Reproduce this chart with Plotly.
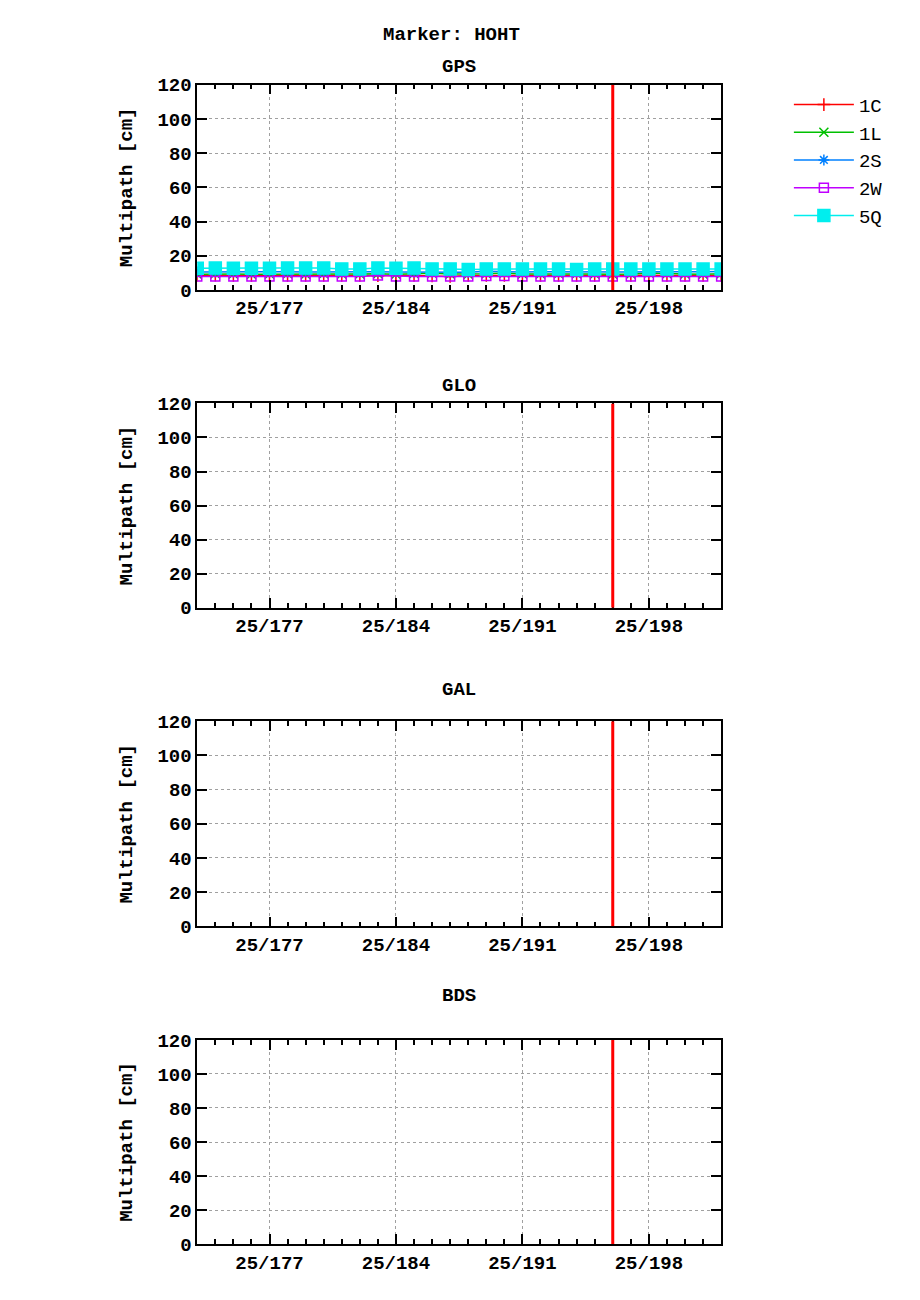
import plotly.graph_objects as go

days = list(range(173, 203))
gps_1c = [8.5, 8.6, 8.4, 8.5, 8.4, 8.5, 8.4, 8.5, 8.4, 8.5, 8.3, 8.6, 8.4, 8.2, 7.8, 8.4, 8.5, 8.5, 8.6, 8.4, 8.4, 8.5, 8.4, 8.5, 8.4, 8.6, 8.5, 8.4, 8.4, 8.5]
gps_1l = [9.2, 9.4, 9.3, 9.2, 9.3, 9.4, 9.2, 9.4, 9.3, 9.3, 9.5, 9.2, 9.6, 9.8, 9.3, 9.2, 9.5, 9.9, 9.3, 9.3, 9.4, 9.4, 9.3, 9.2, 9.3, 9.9, 9.4, 9.3, 9.2, 9.4]
gps_2s = [10.5, 10.6, 10.5, 10.6, 10.5, 10.6, 10.5, 10.6, 10.6, 10.5, 10.6, 10.5, 10.4, 10.5, 10.6, 10.3, 10.9, 10.6, 10.5, 10.6, 10.5, 10.5, 10.6, 10.5, 10.5, 10.6, 10.5, 10.6, 10.6, 10.7]
gps_2w = [7.8, 7.8, 7.9, 7.8, 7.8, 7.8, 7.8, 7.9, 7.8, 7.9, 8.4, 7.9, 7.8, 7.8, 7.8, 7.9, 8.2, 8.1, 7.9, 7.8, 7.8, 7.8, 7.8, 7.9, 7.8, 7.8, 7.8, 7.8, 7.8, 7.9]
gps_5q = [12.7, 12.8, 12.7, 12.7, 12.7, 12.8, 12.8, 12.8, 12.3, 12.3, 12.8, 12.7, 12.8, 12.3, 12.3, 11.9, 12.3, 12.3, 12.3, 12.3, 12.3, 11.9, 12.3, 12.3, 12.3, 12.3, 12.3, 12.3, 12.3, 12.3]

series = [
    ("1C", gps_1c, "#ff0000", "cross-thin-open"),
    ("1L", gps_1l, "#00c000", "x-thin-open"),
    ("2S", gps_2s, "#0080ff", "asterisk-open"),
    ("2W", gps_2w, "#c000ff", "square-open"),
    ("5Q", gps_5q, "#00eeee", "square"),
]
panels = ["GPS", "GLO", "GAL", "BDS"]
major_days = [177, 184, 191, 198]
major_text = ["25/177", "25/184", "25/191", "25/198"]
event_day = 196

FONT = "Liberation Mono"
FS = 19
W, H = 920, 1300
tops = [83, 403, 722, 1042]
bottoms = [289, 608, 928, 1247]


# the page renders slightly offset/compressed, correct pixel targets
def py(y):
    return 1 - ((y - 15) / 0.987) / H


def px(x):
    return ((x - 6) / 1.004) / W


fig = go.Figure()
for name, vals, color, sym in series:
    fig.add_trace(go.Scatter(
        x=days, y=vals, name=name, mode="lines+markers",
        line=dict(color=color, width=1.5),
        marker=dict(symbol=sym, size=9 if sym != "square" else 12, color=color,
                    line=dict(color=color, width=1.5)),
        xaxis="x", yaxis="y",
    ))

layout = dict(
    width=W, height=H, margin=dict(l=0, r=0, t=0, b=0),
    paper_bgcolor="white", plot_bgcolor="white",
    font=dict(family=FONT, size=FS, color="black"),
    showlegend=True,
    legend=dict(x=px(790), y=py(84), xanchor="left", yanchor="top",
                font=dict(family=FONT, size=FS, color="black"),
                itemwidth=60, tracegroupgap=0, bgcolor="rgba(0,0,0,0)"),
    shapes=[], annotations=[],
)
layout["annotations"].append(dict(
    text="<b>Marker: HOHT</b>", x=px(451), y=py(20), xref="paper", yref="paper",
    showarrow=False, font=dict(family=FONT, size=FS)))

for i, title in enumerate(panels):
    sfx = "" if i == 0 else str(i + 1)
    layout["xaxis" + sfx] = dict(
        domain=[px(196), px(722)], range=[173, 202], anchor="y" + sfx,
        tickvals=major_days, ticktext=["<b>%s</b>" % t for t in major_text],
        ticks="inside", ticklen=10, tickwidth=1.5, tickcolor="black",
        mirror="allticks", showline=True, linecolor="black", linewidth=1.5,
        showgrid=True, gridcolor="#a0a0a0", griddash="dot", gridwidth=1,
        zeroline=False, tickfont=dict(family=FONT, size=FS),
        minor=dict(dtick=1, tick0=173, ticks="inside", ticklen=5, tickwidth=1.5,
                   tickcolor="black", showgrid=False),
    )
    layout["yaxis" + sfx] = dict(
        domain=[py(bottoms[i]), py(tops[i])], range=[0, 120], anchor="x" + sfx,
        tickvals=[0, 20, 40, 60, 80, 100, 120],
        ticktext=["<b>%d</b>" % v for v in [0, 20, 40, 60, 80, 100, 120]],
        ticks="inside", ticklen=10, tickwidth=1.5, tickcolor="black",
        mirror="allticks", showline=True, linecolor="black", linewidth=1.5,
        showgrid=True, gridcolor="#a0a0a0", griddash="dot", gridwidth=1,
        zeroline=False, tickfont=dict(family=FONT, size=FS),
        title=dict(text="<b>Multipath [cm]</b>", font=dict(family=FONT, size=FS), standoff=20),
    )
    layout["shapes"].append(dict(
        type="line", xref="x" + sfx, yref="y" + sfx,
        x0=event_day, x1=event_day, y0=0, y1=120,
        line=dict(color="#ff0000", width=3)))
    layout["annotations"].append(dict(
        text="<b>%s</b>" % title, x=px(459), y=py(tops[i] - 31),
        xref="paper", yref="paper", showarrow=False,
        font=dict(family=FONT, size=FS)))

fig.update_layout(**layout)
fig.write_html("out.html")
